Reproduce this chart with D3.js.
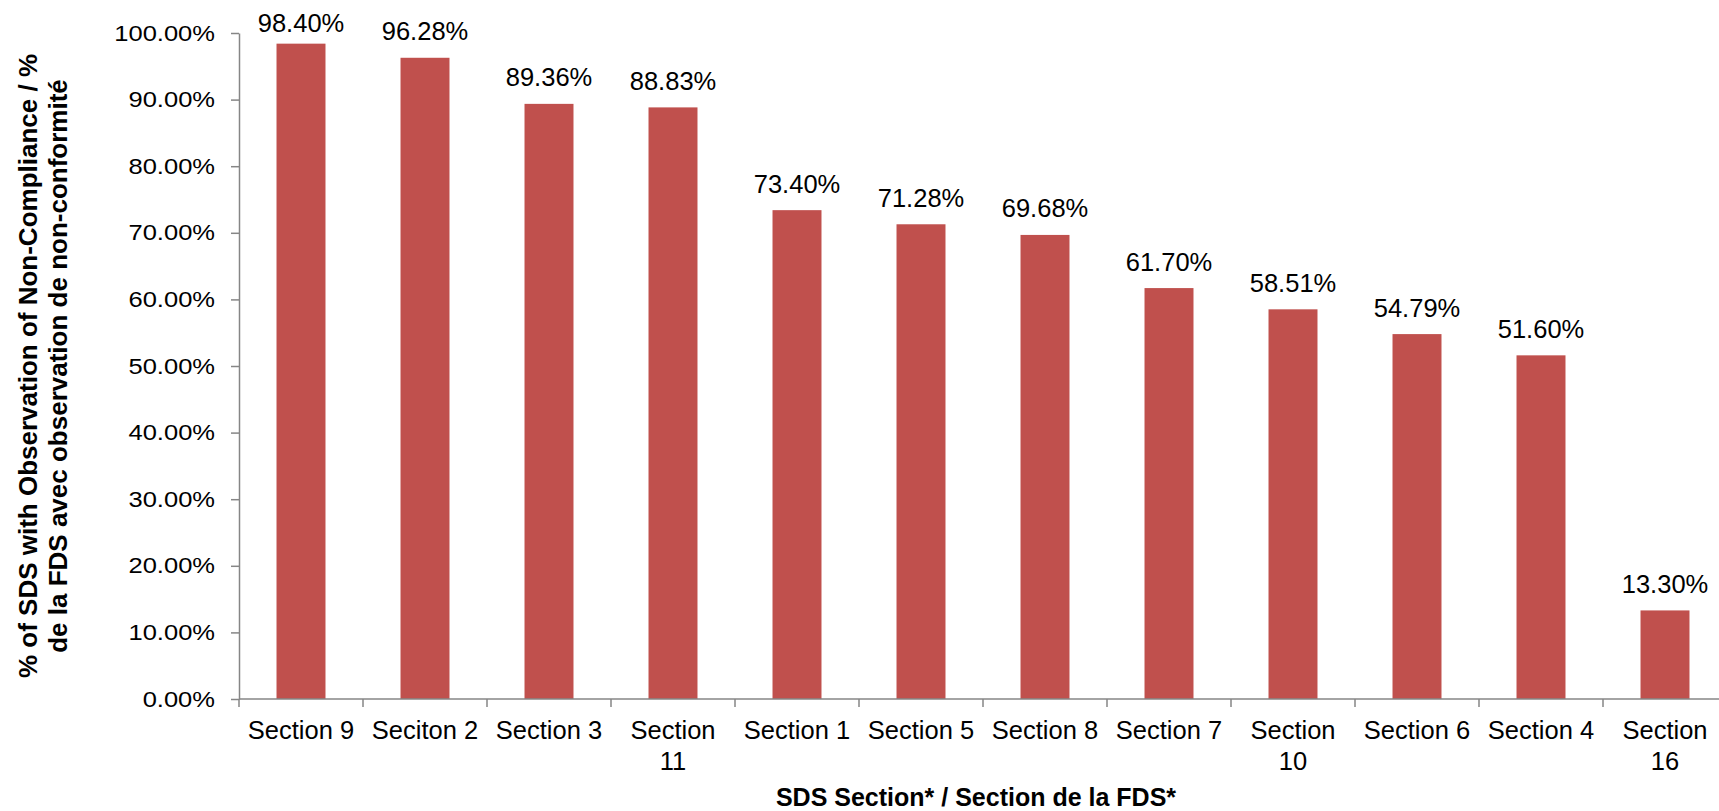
<!DOCTYPE html>
<html>
<head>
<meta charset="utf-8">
<script src="https://cdn.jsdelivr.net/npm/d3@7"></script>
<style>
  html, body { margin: 0; padding: 0; background: #fff; }
  svg { display: block; font-family: "Liberation Sans", Arial, sans-serif; }
</style>
</head>
<body>
<svg id="chart" width="1719" height="811"></svg>
<script>
const categories = ["Section 9", "Seciton 2", "Section 3", "Section 11", "Section 1", "Section 5",
                    "Section 8", "Section 7", "Section 10", "Section 6", "Section 4", "Section 16"];
const values = [98.40, 96.28, 89.36, 88.83, 73.40, 71.28, 69.68, 61.70, 58.51, 54.79, 51.60, 13.30];
const yTicks = [0, 10, 20, 30, 40, 50, 60, 70, 80, 90, 100];
const yTitleLines = ["% of SDS with Observation of Non-Compliance / %", "de la FDS avec observation de non-conformité"];
const xTitle = "SDS Section* / Section de la FDS*";

(function () {
const svg = d3.select("#chart");
const pLeft = 239, pRight = 1727, pTop = 33, pBottom = 699;
const axisColor = "#868686";
const barColor = "#C0504D";

const x = d3.scaleBand().domain(categories).range([pLeft, pRight]).paddingInner(0.605).paddingOuter(0.3025);
const xEdge = d3.scaleBand().domain(categories).range([pLeft, pRight]).padding(0);
const y = d3.scaleLinear().domain([0, 100]).range([pBottom, pTop]);

// bars
svg.append("g").selectAll("rect").data(values).join("rect")
  .attr("x", (d, i) => x(categories[i]))
  .attr("y", d => y(d))
  .attr("width", x.bandwidth())
  .attr("height", d => y(0) - y(d))
  .attr("fill", barColor);

// y axis
const yAxis = svg.append("g").attr("transform", `translate(${pLeft},0)`)
  .call(d3.axisLeft(y).tickValues(yTicks).tickSize(8).tickSizeOuter(0)
        .tickFormat(d => d.toFixed(2) + "%"));
yAxis.select(".domain").attr("stroke", axisColor).attr("stroke-width", 1.5);
yAxis.selectAll(".tick line").attr("stroke", axisColor).attr("stroke-width", 1.5);
yAxis.selectAll(".tick text")
  .attr("x", 0)
  .attr("transform", "translate(-24,0) scale(1.16,1)")
  .attr("font-size", 22)
  .attr("fill", "#000")
  .attr("font-family", "'Liberation Sans', Arial, sans-serif");

// x axis line and boundary ticks
const xg = svg.append("g");
xg.append("line").attr("x1", pLeft).attr("x2", pRight).attr("y1", pBottom).attr("y2", pBottom)
  .attr("stroke", axisColor).attr("stroke-width", 1.5);
const edges = categories.map(c => xEdge(c)).concat([pRight]);
xg.selectAll("line.tk").data(edges).join("line").attr("class", "tk")
  .attr("x1", d => d).attr("x2", d => d).attr("y1", pBottom).attr("y2", pBottom + 8)
  .attr("stroke", axisColor).attr("stroke-width", 1.5);

// x labels (wrapped)
const labelFs = 25.5;
const xl = svg.append("g").attr("font-size", labelFs).attr("fill", "#000");
categories.forEach(c => {
  const cx = x(c) + x.bandwidth() / 2;
  const t = xl.append("text").attr("text-anchor", "middle").attr("x", cx).attr("y", 739).text(c);
  if (t.node().getComputedTextLength() > 116) {
    const words = c.split(" ");
    const last = words.pop();
    t.text(null);
    t.append("tspan").attr("x", cx).attr("y", 739).text(words.join(" "));
    t.append("tspan").attr("x", cx).attr("y", 770).text(last);
  }
});

// value labels
svg.append("g").attr("font-size", labelFs).attr("fill", "#000").attr("text-anchor", "middle")
  .selectAll("text").data(values).join("text")
  .attr("x", (d, i) => x(categories[i]) + x.bandwidth() / 2)
  .attr("y", d => Math.max(y(d) - 17.5, 32))
  .text(d => d.toFixed(2) + "%");

// axis titles
svg.append("text").attr("x", (pLeft + pRight) / 2 - 7).attr("y", 806)
  .attr("text-anchor", "middle").attr("font-weight", "bold").attr("font-size", 25)
  .text(xTitle);

const yMid = (pTop + pBottom) / 2;
[37, 67].forEach((bx, i) => {
  svg.append("text").attr("transform", `translate(${bx},${yMid}) rotate(-90)`)
    .attr("text-anchor", "middle").attr("font-weight", "bold").attr("font-size", 26)
    .text(yTitleLines[i]);
});
})();
</script>
</body>
</html>
